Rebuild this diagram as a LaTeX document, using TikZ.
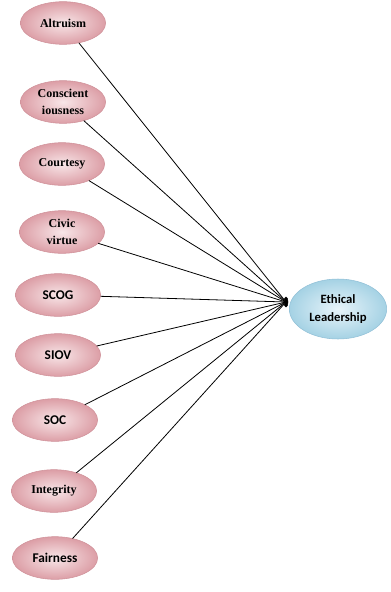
\documentclass[tikz,border=0pt]{standalone}
\usepackage{fontspec}
\setmainfont{Liberation Serif}
\newfontfamily\calibri{Carlito}
\newfontfamily\timesfnt{Liberation Serif}
\usepackage{tkz-graph}
\usetikzlibrary{arrows}
\usetikzlibrary{shapes}

\definecolor{pinkin}{RGB}{248,230,232}
\definecolor{pinkout}{RGB}{220,158,166}
\definecolor{pinkline}{RGB}{208,146,154}
\definecolor{bluein}{RGB}{232,244,250}
\definecolor{blueout}{RGB}{165,210,228}
\definecolor{blueline}{RGB}{145,192,215}

\tikzset{
   factor/.style={ellipse,draw=pinkline,inner color=pinkin,outer color=pinkout,
      minimum width=64pt,minimum height=32pt,inner sep=0pt,align=center},
   serifname/.style={execute at begin node={\timesfnt\bfseries\fontsize{9}{12.5}\selectfont}},
   sansname/.style={execute at begin node={\calibri\bfseries\fontsize{10}{12}\selectfont}},
   hub/.style={ellipse,fill=black,draw=black,minimum width=3pt,minimum height=7.5pt,inner sep=0pt},
   outcome/.style={ellipse,draw=blueline,inner color=bluein,outer color=blueout,
      minimum width=73pt,minimum height=45pt,inner sep=0pt,align=center,
      execute at begin node={\calibri\bfseries\fontsize{9.5}{14}\selectfont}}
}

\begin{document}
\begin{tikzpicture}[x=0.75pt,y=-0.75pt]
   \useasboundingbox (0,0) rectangle (390,592);
   \tikzset{EdgeStyle/.style={-,line width=0.6pt}}
   \tikzset{VertexStyle/.style={factor,serifname}}
   \Vertex[x=63 ,y=23 ,L={Altruism}]{A}
   \Vertex[x=63 ,y=102,L={Conscient\\iousness}]{B}
   \Vertex[x=62 ,y=164,L={Courtesy}]{C}
   \Vertex[x=62 ,y=232,L={Civic\\virtue}]{D}
   \tikzset{VertexStyle/.style={factor,sansname}}
   \Vertex[x=58 ,y=295,L={SCOG}]{E}
   \Vertex[x=58 ,y=355,L={SIOV}]{F}
   \Vertex[x=55 ,y=420,L={SOC}]{G}
   \tikzset{VertexStyle/.style={factor,serifname}}
   \Vertex[x=54 ,y=491,L={Integrity}]{H}
   \tikzset{VertexStyle/.style={factor,sansname}}
   \Vertex[x=55 ,y=558,L={Fairness}]{I}
   \tikzset{VertexStyle/.style={hub}}
   \Vertex[x=286,y=302,NoLabel]{J}
   \tikzset{VertexStyle/.style={outcome}}
   \Vertex[x=338,y=309,L={Ethical\\Leadership}]{EL}
   \Edge(A)(J)
   \Edge(B)(J)
   \Edge(C)(J)
   \Edge(D)(J)
   \Edge(E)(J)
   \Edge(F)(J)
   \Edge(G)(J)
   \Edge(H)(J)
   \Edge(I)(J)
\end{tikzpicture}
\end{document}
